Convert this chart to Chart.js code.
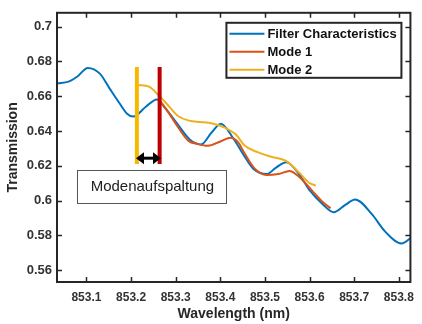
<!DOCTYPE html>
<html><head><meta charset="utf-8">
<script src="https://cdn.jsdelivr.net/npm/chart.js@4.4.0/dist/chart.umd.min.js"></script>
<style>html,body{margin:0;padding:0;background:#fff;}#wrap{width:422px;height:324px;}</style>
</head><body><div id="wrap"><canvas id="c" width="422" height="324"></canvas></div>
<script>
// ---- data ----
const seriesNames = ['Filter Characteristics', 'Mode 1', 'Mode 2'];
const filterX = [853.035, 853.06, 853.079, 853.103, 853.13, 853.152, 853.174, 853.191, 853.205, 853.233, 853.258, 853.277, 853.302, 853.332, 853.357, 853.38, 853.401, 853.431, 853.453, 853.475, 853.504, 853.525, 853.548, 853.577, 853.599, 853.63, 853.654, 853.68, 853.702, 853.74, 853.768, 853.806, 853.828];
const filterY = [0.6673, 0.6684, 0.6712, 0.6763, 0.673, 0.6644, 0.656, 0.650, 0.6483, 0.654, 0.6582, 0.653, 0.6447, 0.635, 0.6323, 0.639, 0.6442, 0.635, 0.626, 0.618, 0.6153, 0.619, 0.6221, 0.615, 0.6063, 0.5978, 0.5933, 0.5975, 0.6006, 0.5921, 0.5826, 0.5753, 0.5787];
const mode1X = [853.266, 853.284, 853.306, 853.328, 853.35, 853.372, 853.40, 853.423, 853.44, 853.453, 853.475, 853.504, 853.53, 853.555, 853.577, 853.607, 853.63, 853.647];
const mode1Y = [0.657, 0.6506, 0.6419, 0.6345, 0.6325, 0.6315, 0.634, 0.6362, 0.6335, 0.6278, 0.619, 0.6147, 0.6153, 0.617, 0.6136, 0.6053, 0.599, 0.5956];
const mode2X = [853.216, 853.24, 853.262, 853.284, 853.306, 853.33, 853.355, 853.38, 853.41, 853.435, 853.455, 853.482, 853.51, 853.548, 853.577, 853.599, 853.614];
const mode2Y = [0.6665, 0.6655, 0.6605, 0.6545, 0.6485, 0.646, 0.6452, 0.6445, 0.642, 0.638, 0.6315, 0.628, 0.6255, 0.6227, 0.616, 0.6103, 0.6086];
// vertical markers (mode positions) and the splitting arrow
const markerX = [853.213, 853.264];
const markerY = [0.621, 0.6769];
const arrowX = [853.211, 853.267];
const arrowY = 0.6244;
// annotation box
const noteText = 'Modenaufspaltung';
const noteX = [853.079, 853.412];
const noteY = [0.5984, 0.6176];
// axes
const xTicks = [853.1, 853.2, 853.3, 853.4, 853.5, 853.6, 853.7, 853.8];
const xTickLabels = ['853.1', '853.2', '853.3', '853.4', '853.5', '853.6', '853.7', '853.8'];
const yTicks = [0.56, 0.58, 0.6, 0.62, 0.64, 0.66, 0.68, 0.7];
const yTickLabels = ['0.56', '0.58', '0.6', '0.62', '0.64', '0.66', '0.68', '0.7'];
const xRange = [853.034, 853.826];
const yRange = [0.5532, 0.708];

const colors = ['#0072BD', '#D95319', '#EDB120'];
const markerColors = ['#F5BA00', '#C00000'];
const pts = (xs, ys) => xs.map((v, i) => ({x: v, y: ys[i]}));

const curveStyle = {borderWidth: 2, pointRadius: 0, fill: false, cubicInterpolationMode: 'monotone'};

const overlay = {
  id: 'overlay',
  afterDatasetsDraw(chart) {
    const {ctx, chartArea: ca, scales: {x, y}} = chart;
    ctx.save();
    // arrow
    const ax0 = x.getPixelForValue(arrowX[0]), ax1 = x.getPixelForValue(arrowX[1]);
    const ay = y.getPixelForValue(arrowY);
    const hl = 8, hh = 6;
    ctx.fillStyle = '#000'; ctx.strokeStyle = '#000'; ctx.lineWidth = 3;
    ctx.beginPath(); ctx.moveTo(ax0 + hl, ay); ctx.lineTo(ax1 - hl, ay); ctx.stroke();
    ctx.beginPath(); ctx.moveTo(ax0, ay); ctx.lineTo(ax0 + hl, ay - hh); ctx.lineTo(ax0 + hl, ay + hh); ctx.closePath(); ctx.fill();
    ctx.beginPath(); ctx.moveTo(ax1, ay); ctx.lineTo(ax1 - hl, ay - hh); ctx.lineTo(ax1 - hl, ay + hh); ctx.closePath(); ctx.fill();
    // annotation box
    const bx0 = x.getPixelForValue(noteX[0]), bx1 = x.getPixelForValue(noteX[1]);
    const by0 = y.getPixelForValue(noteY[1]), by1 = y.getPixelForValue(noteY[0]);
    ctx.fillStyle = '#fff'; ctx.fillRect(bx0, by0, bx1 - bx0, by1 - by0);
    ctx.strokeStyle = '#555'; ctx.lineWidth = 1;
    ctx.strokeRect(Math.round(bx0) + 0.5, Math.round(by0) + 0.5, Math.round(bx1 - bx0), Math.round(by1 - by0));
    ctx.fillStyle = '#222'; ctx.font = '15px "Liberation Sans", Arial, sans-serif';
    ctx.textAlign = 'center'; ctx.textBaseline = 'middle';
    ctx.fillText(noteText, (bx0 + bx1) / 2 + 1, (by0 + by1) / 2);
    // frame and inward ticks
    ctx.strokeStyle = '#262626'; ctx.lineWidth = 2;
    ctx.strokeRect(ca.left, ca.top, ca.right - ca.left, ca.bottom - ca.top);
    ctx.lineWidth = 1.5;
    ctx.beginPath();
    xTicks.forEach(v => {
      const p = Math.round(x.getPixelForValue(v)) + 0.5;
      ctx.moveTo(p, ca.bottom); ctx.lineTo(p, ca.bottom - 5);
      ctx.moveTo(p, ca.top); ctx.lineTo(p, ca.top + 5);
    });
    yTicks.forEach(v => {
      const p = Math.round(y.getPixelForValue(v)) + 0.5;
      ctx.moveTo(ca.left, p); ctx.lineTo(ca.left + 5, p);
      ctx.moveTo(ca.right, p); ctx.lineTo(ca.right - 5, p);
    });
    ctx.stroke();
    // legend
    const lw = 175, lh = 55;
    const lx = ca.right - 9 - lw, ly = ca.top + 10;
    ctx.fillStyle = '#fff'; ctx.fillRect(lx, ly, lw, lh);
    ctx.strokeStyle = '#262626'; ctx.lineWidth = 2; ctx.strokeRect(lx, ly, lw, lh);
    ctx.font = 'bold 13px "Liberation Sans", Arial, sans-serif';
    ctx.textAlign = 'left'; ctx.textBaseline = 'middle';
    seriesNames.forEach((name, i) => {
      const ry = ly + 11 + i * 18;
      ctx.strokeStyle = colors[i]; ctx.lineWidth = 2;
      ctx.beginPath(); ctx.moveTo(lx + 3, ry); ctx.lineTo(lx + 38, ry); ctx.stroke();
      ctx.fillStyle = '#111'; ctx.fillText(name, lx + 41, ry + 0.5);
    });
    ctx.restore();
  }
};

new Chart(document.getElementById('c'), {
  type: 'line',
  data: {
    datasets: [
      Object.assign({label: seriesNames[0], data: pts(filterX, filterY), borderColor: colors[0], order: 3}, curveStyle),
      Object.assign({label: seriesNames[1], data: pts(mode1X, mode1Y), borderColor: colors[1], order: 2}, curveStyle),
      Object.assign({label: seriesNames[2], data: pts(mode2X, mode2Y), borderColor: colors[2], order: 1}, curveStyle),
      {label: 'm2', data: pts([markerX[0], markerX[0]], markerY), borderColor: markerColors[0], borderWidth: 4, pointRadius: 0, order: 0, borderCapStyle: 'butt'},
      {label: 'm1', data: pts([markerX[1], markerX[1]], markerY), borderColor: markerColors[1], borderWidth: 4, pointRadius: 0, order: 0, borderCapStyle: 'butt'}
    ]
  },
  options: {
    responsive: false, animation: false,
    layout: {padding: {left: 0, right: 5, top: 8, bottom: 0}},
    plugins: {legend: {display: false}, tooltip: {enabled: false}},
    scales: {
      x: {
        type: 'linear', min: xRange[0], max: xRange[1],
        grid: {display: false, drawTicks: false}, border: {display: false},
        afterBuildTicks: s => { s.ticks = xTicks.map(v => ({value: v})); },
        afterFit: s => { s.height = 42; },
        ticks: {padding: 8, color: '#333', font: {family: '"Liberation Sans", Arial, sans-serif', size: 12, weight: 'bold'},
          callback: (v, i) => xTickLabels[i]},
        title: {display: true, text: 'Wavelength (nm)', color: '#262626', padding: {top: 0, bottom: 1},
          font: {family: '"Liberation Sans", Arial, sans-serif', size: 14, weight: 'bold'}}
      },
      y: {
        type: 'linear', min: yRange[0], max: yRange[1],
        grid: {display: false, drawTicks: false}, border: {display: false},
        afterBuildTicks: s => { s.ticks = yTicks.map(v => ({value: v})); },
        afterFit: s => { s.width = 57; },
        ticks: {padding: 5, color: '#333', font: {family: '"Liberation Sans", Arial, sans-serif', size: 13, weight: 'bold'},
          callback: (v, i) => yTickLabels[i]},
        title: {display: true, text: 'Transmission', color: '#262626', padding: {top: 5, bottom: 0},
          font: {family: '"Liberation Sans", Arial, sans-serif', size: 14, weight: 'bold'}}
      }
    }
  },
  plugins: [overlay]
});
</script></body></html>
